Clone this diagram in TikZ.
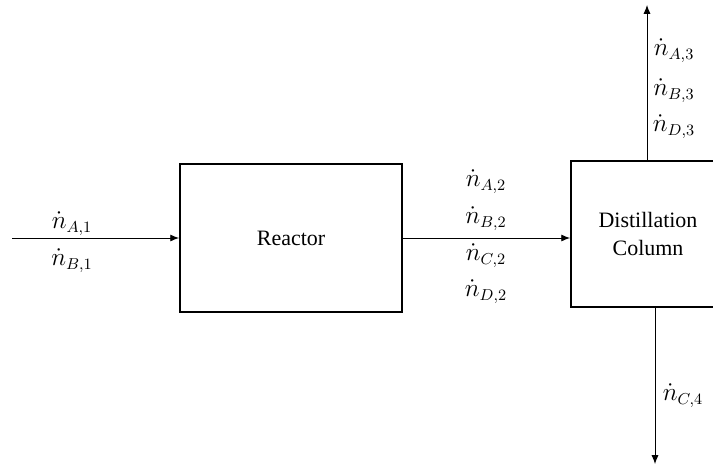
\documentclass[tikz,border=0pt]{standalone}
\usepackage{fontspec}
\setmainfont{Liberation Serif}
\usepackage{amsmath}
\usetikzlibrary{arrows.meta}

\begin{document}
\begin{tikzpicture}[>={Latex[length=5pt,width=4pt]},x=0.02cm,y=-0.02cm,font=\fontsize{12.5}{15}\selectfont]
\useasboundingbox (0,0) rectangle (713,466);
\tikzset{unitbox/.style={draw,line width=1.1pt,inner sep=0pt,align=center},
  flow/.style={->,line width=0.5pt},
  stream/.style={inner sep=0pt,font=\fontsize{13.5}{15}\selectfont}}
\node[unitbox,minimum width=4.44cm,minimum height=2.96cm] (reactor) at (291,238) {Reactor};
\node[unitbox,minimum width=3.08cm,minimum height=2.92cm] (column) at (648,234) {Distillation\\[1pt]Column};
\coordinate (feed) at (12,238);
\coordinate (top) at (647,5);
\coordinate (bottom) at (655,464);
\draw[flow] (feed) -- (reactor);
\draw[flow] (reactor.east) -- (reactor.east -| column.west);
\draw[flow] (column.north -| top) -- (top);
\draw[flow] (column.south -| bottom) -- (bottom);
% stream labels
\node[stream] (a1) at (72,224) {$\dot{n}_{A,1}$};
\node[stream] (b1) at (72,261) {$\dot{n}_{B,1}$};
\node[stream] (a2) at (486,182) {$\dot{n}_{A,2}$};
\node[stream] (b2) at (486,219) {$\dot{n}_{B,2}$};
\node[stream] (c2) at (486,256) {$\dot{n}_{C,2}$};
\node[stream] (d2) at (486,292) {$\dot{n}_{D,2}$};
\node[stream] (a3) at (674,51) {$\dot{n}_{A,3}$};
\node[stream] (b3) at (674,91) {$\dot{n}_{B,3}$};
\node[stream] (d3) at (674,127) {$\dot{n}_{D,3}$};
\node[stream] (c4) at (683,396) {$\dot{n}_{C,4}$};
\end{tikzpicture}
\end{document}
